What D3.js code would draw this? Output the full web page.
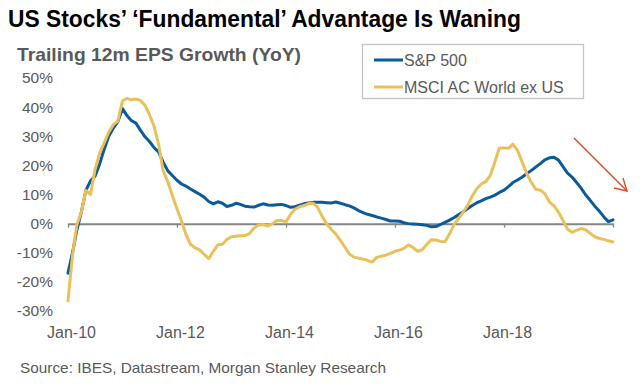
<!DOCTYPE html>
<html>
<head>
<meta charset="utf-8">
<script src="https://cdn.jsdelivr.net/npm/d3@7"></script>
<style>
body { margin: 0; background: #fff; }
svg text { font-family: "Liberation Sans", Arial, sans-serif; }
</style>
</head>
<body>
<svg></svg>
<script>
// canvas size
let width = 640
let height = 386

// monthly data, Jan-10 .. Jan-20
const startMonth = new Date(2010, 0, 1)
const sp500 = [
  -17, -9.8, -2.3, 4.1, 11.4, 14.7, 16.3, 20.5, 25.6, 30, 32.8, 35,
  39.5, 37, 35.4, 34.5, 32.1, 29.8, 28.2, 26.1, 24.5, 21.1, 18.1, 16.5,
  14.9, 13.6, 12.9, 11.9, 11.0, 10.1, 9.1, 7.6, 6.8, 7.5, 7.0, 5.9,
  6.3, 7.0, 6.6, 6.0, 5.8, 5.7, 6.3, 6.8, 6.4, 6.3, 6.5, 6.6,
  6.2, 5.6, 5.8, 6.3, 6.8, 7.1, 7.3, 7.3, 7.3, 7.2, 7.1, 7.4,
  7.0, 6.5, 6.1, 5.4, 4.5, 3.8, 3.2, 2.8, 2.3, 1.9, 1.4, 0.9,
  0.9, 0.8, 0.3, 0.0, -0.1, -0.2, -0.4, -0.6, -1.1, -1.0, -0.3, 0.4,
  1.2, 2.1, 3.0, 4.0, 5.1, 6.2, 7.1, 7.8, 8.6, 9.1, 9.8, 10.7,
  11.5, 12.8, 14.1, 15.0, 15.9, 17.1, 18.2, 19.4, 20.6, 21.9, 22.6, 22.8,
  21.8, 19.5, 17.4, 16.0, 14.2, 12.2, 9.9, 8.0, 6.0, 4.3, 2.3, 0.7,
  1.3
]
const msciExUs = [
  -26.5, -10.5, -0.5, 4.1, 11.4, 10, 18.5, 24.2, 27.8, 31.4, 34, 35.2,
  42.2, 43, 42.5, 42.8, 42.3, 40.6, 37.4, 33.4, 27, 18, 14.4, 9.7,
  5.1, 0.9, -3.7, -7.1, -8.3, -9, -10.5, -12.0, -9.5, -7.3, -7.1, -5.4,
  -4.5, -4.3, -4.2, -4.1, -3.4, -1.5, -0.5, -0.3, -0.8, -0.1, 1.1, 1.1,
  0.6, 3.2, 4.9, 5.8, 6.2, 6.9, 7.0, 5.6, 2.4, -0.1, -2.0, -3.6,
  -5.8, -8.2, -10.4, -11.5, -11.9, -12.2, -12.6, -13.2, -11.6, -11.2, -10.8, -10.2,
  -9.5, -9.1, -8.5, -7.3, -8.2, -9.5, -9.0, -7.2, -5.5, -5.6, -6.1, -6.2,
  -3.5, -0.2, 1.7, 3.9, 6.2, 9.4, 11.9, 13.6, 14.4, 16.6, 21.3, 26,
  26.0, 25.9, 27.3, 25.2, 21.3, 17.3, 14.3, 11.8, 11.5, 10.3, 7.4, 6.2,
  3.9, 1.0, -1.8, -3.0, -2.3, -1.7, -2.1, -3.3, -4.5, -5.1, -5.4, -5.9,
  -6.3
]
const seriesNames = ['S&P 500', 'MSCI AC World ex US']
const seriesColors = ['#0b5a9c', '#e9c15b']
const xTickLabels = ['Jan-10', 'Jan-12', 'Jan-14', 'Jan-16', 'Jan-18', '']
const yTickValues = [-30, -20, -10, 0, 10, 20, 30, 40, 50]

const titleText = 'US Stocks\u2019 \u2018Fundamental\u2019 Advantage Is Waning'
const subtitleText = 'Trailing 12m EPS Growth (YoY)'
const sourceText = 'Source: IBES, Datastream, Morgan Stanley Research'

let months = sp500.map((d, i) => d3.timeMonth.offset(startMonth, i))
let tickDates = xTickLabels.map((d, i) => d3.timeMonth.offset(startMonth, i * 24))

let svg = d3.select('svg')
    .attr('width', width)
    .attr('height', height)

// scales
let xScale = d3.scaleTime()
    .domain([months[0], months[months.length - 1]])
    .range([68, 613])

let yScale = d3.scaleLinear()
    .domain([-30, 50])
    .range([311, 78])

// title + subtitle
svg.append('text')
    .attr('x', 8).attr('y', 27)
    .attr('font-size', 23.5).attr('font-weight', 'bold')
    .attr('fill', '#000')
    .attr('textLength', 513).attr('lengthAdjust', 'spacingAndGlyphs')
    .text(titleText)

svg.append('text')
    .attr('x', 17).attr('y', 61)
    .attr('font-size', 19).attr('font-weight', 'bold')
    .attr('fill', '#595959')
    .attr('textLength', 284).attr('lengthAdjust', 'spacingAndGlyphs')
    .text(subtitleText)

// y axis (labels only)
let yAxis = d3.axisLeft(yScale)
    .tickValues(yTickValues)
    .tickSize(0)
    .tickPadding(0)
    .tickFormat(d => d + '%')

svg.append('g')
    .attr('transform', 'translate(53,0)')
    .call(yAxis)
    .call(g => g.select('.domain').remove())
    .selectAll('text')
    .attr('font-size', 15.5)
    .attr('fill', '#595959')

// zero line with ticks
let zeroAxis = d3.axisBottom(xScale)
    .tickValues(tickDates)
    .tickSize(4)
    .tickSizeOuter(0)
    .tickFormat('')

svg.append('g')
    .attr('transform', 'translate(0,' + yScale(0) + ')')
    .call(zeroAxis)
    .call(g => g.select('.domain').attr('stroke', '#868686').attr('stroke-width', 2))
    .call(g => g.selectAll('.tick line').attr('stroke', '#868686').attr('stroke-width', 1.3))

// x labels at the bottom
let labelAxis = d3.axisBottom(xScale)
    .tickValues(tickDates)
    .tickSize(0)
    .tickFormat((d, i) => xTickLabels[i])

svg.append('g')
    .attr('transform', 'translate(3,324)')
    .call(labelAxis)
    .call(g => g.select('.domain').remove())
    .selectAll('text')
    .attr('font-size', 16)
    .attr('fill', '#595959')

// lines
let line = d3.line()
    .x((d, i) => xScale(months[i]))
    .y(d => yScale(d))

let allSeries = [sp500, msciExUs]
svg.selectAll('path.series')
    .data(allSeries)
    .enter()
    .append('path')
    .attr('class', 'series')
    .attr('d', d => line(d))
    .attr('fill', 'none')
    .attr('stroke', (d, i) => seriesColors[i])
    .attr('stroke-width', 3)
    .attr('stroke-linejoin', 'round')
    .attr('stroke-linecap', 'round')

// legend
let legend = svg.append('g')
legend.append('rect')
    .attr('x', 362.5).attr('y', 44.5)
    .attr('width', 221).attr('height', 54)
    .attr('fill', '#fff')
    .attr('stroke', '#c4c4c4').attr('stroke-width', 1.3)

seriesNames.forEach((name, i) => {
    let y = 60 + i * 27
    legend.append('line')
        .attr('x1', 374).attr('x2', 403)
        .attr('y1', y).attr('y2', y)
        .attr('stroke', seriesColors[i]).attr('stroke-width', 3)
    legend.append('text')
        .attr('x', 404).attr('y', y + 5.8)
        .attr('font-size', 16)
        .attr('fill', '#595959')
        .text(name)
})

// red arrow annotation
let arrow = svg.append('g')
    .attr('stroke', '#e04a26')
    .attr('stroke-width', 1.4)
    .attr('fill', 'none')
arrow.append('line')
    .attr('x1', 574).attr('y1', 138)
    .attr('x2', 627).attr('y2', 191)
arrow.append('polyline')
    .attr('points', '623,178 627,191 614,188')

// source
svg.append('text')
    .attr('x', 20).attr('y', 373)
    .attr('font-size', 15)
    .attr('fill', '#595959')
    .attr('textLength', 366).attr('lengthAdjust', 'spacingAndGlyphs')
    .text(sourceText)
</script>
</body>
</html>
